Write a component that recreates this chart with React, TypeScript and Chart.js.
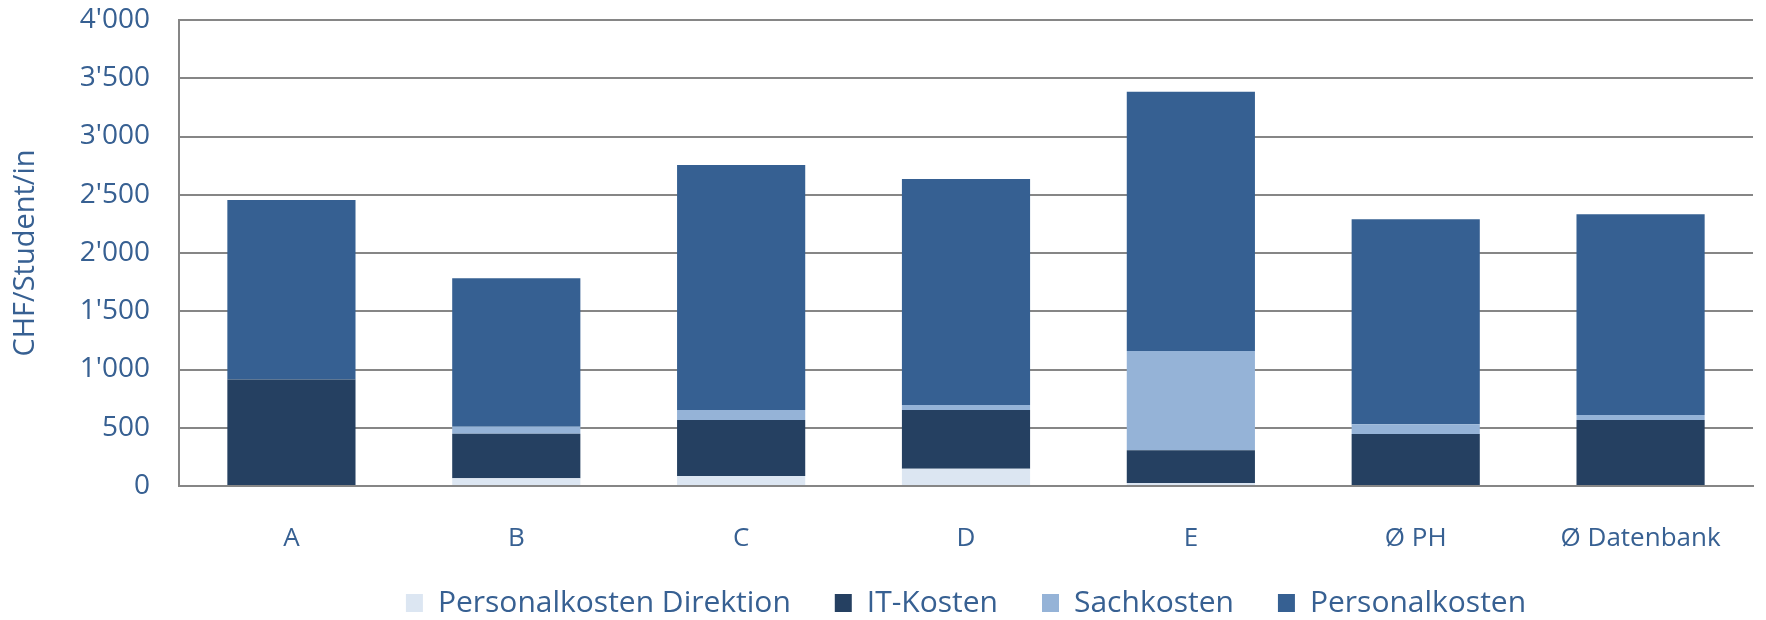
import React, { useEffect, useRef } from "react";
import { Chart, registerables } from "chart.js";

Chart.register(...registerables);

const categories = ["A", "B", "C", "D", "E", "Ø PH", "Ø Datenbank"];
const personalkostenDirektion = [0, 66, 86, 149, 25, 0, 0];
const itKosten = [915, 383, 481, 503, 281, 446, 567];
const sachkosten = [0, 60, 85, 43, 853, 84, 42];
const personalkosten = [1540, 1274, 2103, 1940, 2226, 1759, 1723];

const seriesNames = ["Personalkosten Direktion", "IT-Kosten", "Sachkosten", "Personalkosten"];
const seriesColors = ["#DCE6F2", "#254061", "#95B3D7", "#366092"];

const yTickValues = [0, 500, 1000, 1500, 2000, 2500, 3000, 3500, 4000];
const yTickLabels = ["0", "500", "1'000", "1'500", "2'000", "2'500", "3'000", "3'500", "4'000"];
const yTitle = "CHF/Student/in";

const TEXT = "#376092";
const GRID = "#868686";

export default function App() {
  const ref = useRef<HTMLCanvasElement | null>(null);

  useEffect(() => {
    if (!ref.current) return;
    Chart.defaults.font.family = "'Open Sans', sans-serif";
    const seriesData = [personalkostenDirektion, itKosten, sachkosten, personalkosten];
    const chart = new Chart(ref.current, {
      type: "bar",
      data: {
        labels: categories,
        datasets: seriesData.map((d, i) => ({
          label: seriesNames[i],
          data: d,
          backgroundColor: seriesColors[i],
          borderWidth: 0,
          barPercentage: 0.57,
          categoryPercentage: 1.0,
        })),
      },
      options: {
        responsive: false,
        animation: false,
        layout: { padding: { left: 0, right: 13, top: 20, bottom: -8 } },
        plugins: {
          legend: {
            position: "bottom",
            fullSize: false,
            labels: {
              boxWidth: 17,
              boxHeight: 18,
              padding: 44,
              color: TEXT,
              font: { size: 30 },
            },
          },
          tooltip: { enabled: false },
        },
        scales: {
          x: {
            stacked: true,
            grid: { display: false, drawTicks: false },
            border: { display: true, color: GRID, width: 2 },
            ticks: { color: TEXT, font: { size: 26 }, padding: -68, mirror: true },
            afterFit: (s: any) => {
              s.height = 58;
            },
          },
          y: {
            stacked: true,
            min: 0,
            max: 4000,
            ticks: {
              stepSize: 500,
              color: TEXT,
              font: { size: 28 },
              padding: 29,
              callback: (value: any) => {
                const i = yTickValues.indexOf(Number(value));
                return i >= 0 ? yTickLabels[i] : "";
              },
            },
            grid: { color: GRID, lineWidth: 2, drawTicks: false },
            border: { display: true, color: GRID, width: 2 },
            title: {
              display: true,
              text: yTitle,
              color: TEXT,
              font: { size: 29 },
              padding: { top: 8, bottom: 0 },
            },
            afterFit: (s: any) => {
              s.width = 179;
              s.paddingTop = 0;
              s.paddingBottom = 0;
            },
          },
        },
      },
    });
    return () => chart.destroy();
  }, []);

  return (
    <div style={{ position: "fixed", left: 0, top: 0, width: 1766, height: 620, background: "#fff" }}>
      <canvas ref={ref} width={1766} height={620} style={{ width: 1766, height: 620, display: "block" }} />
    </div>
  );
}
